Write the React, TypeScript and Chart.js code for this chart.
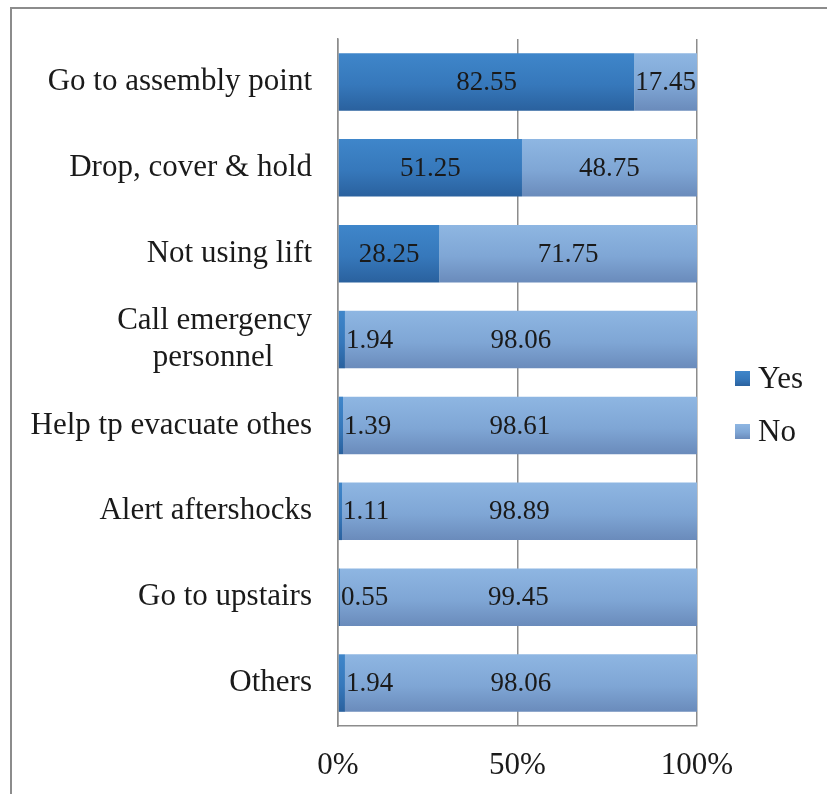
import React, { useEffect, useRef } from "react";
import { Chart, registerables } from "chart.js";

Chart.register(...registerables);

const categories: (string | string[])[] = [
  "Go to assembly point",
  "Drop, cover & hold",
  "Not using lift",
  ["Call emergency", "personnel     "],
  "Help tp evacuate othes",
  "Alert aftershocks",
  "Go to upstairs",
  "Others",
];
const yesValues = [82.55, 51.25, 28.25, 1.94, 1.39, 1.11, 0.55, 1.94];
const noValues = [17.45, 48.75, 71.75, 98.06, 98.61, 98.89, 99.45, 98.06];
const xTicks = [0, 50, 100];
const seriesNames = ["Yes", "No"];

const FONT = '"Liberation Serif", "Times New Roman", serif';
const CAT_PCT = 0.67;

const yesStops: [number, string][] = [
  [0, "#3f86ca"],
  [0.55, "#3678bb"],
  [1, "#2a619e"],
];
const noStops: [number, string][] = [
  [0, "#8eb6e2"],
  [0.55, "#7fa6d5"],
  [1, "#6a8bbb"],
];

function barGradient(stops: [number, string][]) {
  return (ctx: any) => {
    const chart = ctx.chart;
    const area = chart.chartArea;
    if (!area || ctx.dataIndex === undefined || !chart.scales.y) return stops[1][1];
    const yc = chart.scales.y.getPixelForValue(ctx.dataIndex);
    const band = (area.bottom - area.top) / categories.length;
    const half = (band * CAT_PCT) / 2;
    const g = chart.ctx.createLinearGradient(0, yc - half, 0, yc + half);
    stops.forEach(([o, c]) => g.addColorStop(o, c));
    return g;
  };
}

const dataLabelPlugin = {
  id: "dataLabels",
  afterDatasetsDraw(chart: any) {
    const ctx = chart.ctx;
    ctx.save();
    ctx.font = `27px ${FONT}`;
    ctx.fillStyle = "#1a1a1a";
    ctx.textBaseline = "middle";
    chart.data.datasets.forEach((ds: any, di: number) => {
      const meta = chart.getDatasetMeta(di);
      meta.data.forEach((el: any, i: number) => {
        const v = ds.data[i];
        const text = v.toFixed(2);
        if (v < 5) {
          ctx.textAlign = "left";
          ctx.fillText(text, el.x + 1, el.y + 1);
        } else {
          ctx.textAlign = "center";
          ctx.fillText(text, (el.x + el.base) / 2, el.y + 1);
        }
      });
    });
    ctx.restore();
  },
};

const legendPlugin = {
  id: "customLegend",
  afterDraw(chart: any) {
    const ctx = chart.ctx;
    const area = chart.chartArea;
    const x0 = area.right + 38;
    const yStart = (area.top + area.bottom) / 2 - 4;
    const spacing = 53;
    const stopsList = [yesStops, noStops];
    ctx.save();
    seriesNames.forEach((name, i) => {
      const yc = yStart + i * spacing;
      const g = ctx.createLinearGradient(0, yc - 7.5, 0, yc + 7.5);
      stopsList[i].forEach(([o, c]) => g.addColorStop(o, c));
      ctx.fillStyle = g;
      ctx.fillRect(x0, yc - 7.5, 15, 15);
      ctx.font = `31px ${FONT}`;
      ctx.fillStyle = "#1a1a1a";
      ctx.textAlign = "left";
      ctx.textBaseline = "middle";
      ctx.fillText(name, x0 + 23, yc + 1);
    });
    ctx.restore();
  },
};

export default function App() {
  const canvasRef = useRef<HTMLCanvasElement | null>(null);

  useEffect(() => {
    if (!canvasRef.current) return;
    const chart = new Chart(canvasRef.current, {
      type: "bar",
      data: {
        labels: categories,
        datasets: [
          {
            label: seriesNames[0],
            data: yesValues,
            backgroundColor: barGradient(yesStops),
            borderWidth: 0,
            barPercentage: 1,
            categoryPercentage: CAT_PCT,
          },
          {
            label: seriesNames[1],
            data: noValues,
            backgroundColor: barGradient(noStops),
            borderWidth: 0,
            barPercentage: 1,
            categoryPercentage: CAT_PCT,
          },
        ],
      },
      options: {
        indexAxis: "y",
        responsive: false,
        animation: false,
        devicePixelRatio: 1,
        layout: { padding: { top: 39, right: 130, left: 0, bottom: 0 } },
        plugins: {
          legend: { display: false },
          tooltip: { enabled: false },
        },
        scales: {
          x: {
            stacked: true,
            min: 0,
            max: 100,
            afterBuildTicks: (s: any) => {
              s.ticks = xTicks.map((v) => ({ value: v }));
            },
            afterFit: (s: any) => {
              s.height = 68;
            },
            ticks: {
              callback: (v: any) => `${v}%`,
              font: { family: FONT, size: 31 },
              color: "#1a1a1a",
              padding: 21,
              maxRotation: 0,
            },
            grid: {
              color: "#8c8c8c",
              lineWidth: 1.5,
              drawTicks: false,
            },
            border: { display: true, color: "#8c8c8c", width: 1.5 },
          },
          y: {
            stacked: true,
            afterFit: (s: any) => {
              s.width = 338;
            },
            ticks: {
              font: { family: FONT, size: 31 },
              color: "#1a1a1a",
              padding: 18,
            },
            grid: { display: false },
            border: { display: true, color: "#8c8c8c", width: 1.5 },
          },
        },
      },
      plugins: [dataLabelPlugin, legendPlugin],
    });
    return () => chart.destroy();
  }, []);

  return (
    <div
      style={{
        position: "fixed",
        left: 0,
        top: 0,
        width: 827,
        height: 794,
        overflow: "hidden",
        background: "#fff",
      }}
    >
      <div
        style={{
          position: "absolute",
          left: 10,
          top: 7,
          width: 900,
          height: 900,
          border: "2px solid #8c8c8c",
          boxSizing: "border-box",
        }}
      />
      <canvas
        ref={canvasRef}
        width={827}
        height={794}
        style={{ position: "absolute", left: 0, top: 0, width: 827, height: 794 }}
      />
    </div>
  );
}
